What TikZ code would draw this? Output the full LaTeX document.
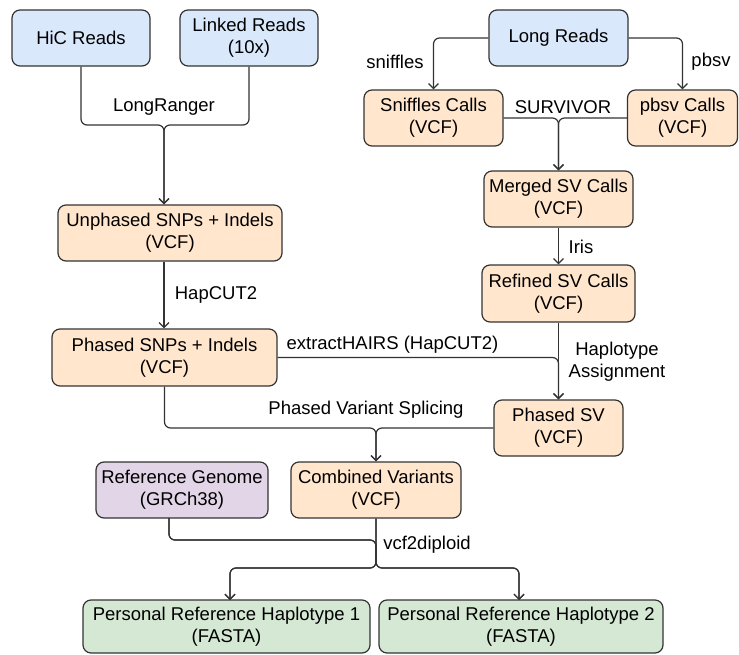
\documentclass[tikz,border=0pt]{standalone}
\usepackage{fontspec}
\setmainfont{Liberation Sans}
\usetikzlibrary{arrows.meta,calc}
\definecolor{bluef}{HTML}{DAE8FC}
\definecolor{orangef}{HTML}{FFE6CC}
\definecolor{purplef}{HTML}{E1D5E7}
\definecolor{greenf}{HTML}{D5E8D4}
\definecolor{strokec}{HTML}{333333}
\tikzset{
  box/.style={draw=strokec, line width=1.2pt, rounded corners=8pt, align=center, inner sep=0pt,
    font=\fontsize{18.5}{22}\selectfont},
  bluebox/.style={box, fill=bluef},
  orangebox/.style={box, fill=orangef},
  purplebox/.style={box, fill=purplef},
  greenbox/.style={box, fill=greenf},
  conn/.style={draw=strokec, line width=1.2pt, rounded corners=6pt},
  arr/.style={conn, -{Straight Barb[length=5pt,width=10pt,line width=1.2pt]}},
  lbl/.style={font=\fontsize{18.5}{22}\selectfont, align=center, inner sep=0pt, text=black}
}
\begin{document}
\begin{tikzpicture}[x=1pt,y=-1pt]
\useasboundingbox (0,0) rectangle (739,655);
% nodes
\node[bluebox, minimum width=138pt, minimum height=56pt] (hic) at (81,38) {HiC Reads};
\node[bluebox, minimum width=138pt, minimum height=56pt] (linked) at (249,38) {Linked Reads\\(10x)};
\node[bluebox, minimum width=139pt, minimum height=56pt] (longr) at (558.5,38) {Long Reads};
\node[orangebox, minimum width=139pt, minimum height=56pt] (sniff) at (433.5,118) {Sniffles Calls\\(VCF)};
\node[orangebox, minimum width=110pt, minimum height=56pt] (pbsvc) at (682.5,118) {pbsv Calls\\(VCF)};
\node[orangebox, minimum width=149pt, minimum height=56pt] (merged) at (558.5,199) {Merged SV Calls\\(VCF)};
\node[orangebox, minimum width=153pt, minimum height=57pt] (refined) at (558.5,293.5) {Refined SV Calls\\(VCF)};
\node[orangebox, minimum width=224pt, minimum height=56pt] (unph) at (170,233) {Unphased SNPs + Indels\\(VCF)};
\node[orangebox, minimum width=225pt, minimum height=57pt] (phsnp) at (164.5,357.5) {Phased SNPs + Indels\\(VCF)};
\node[orangebox, minimum width=129pt, minimum height=56pt] (phsv) at (558.5,428) {Phased SV\\(VCF)};
\node[purplebox, minimum width=172pt, minimum height=56pt] (refg) at (182,490) {Reference Genome\\(GRCh38)};
\node[orangebox, minimum width=170pt, minimum height=56pt] (comb) at (376,490) {Combined Variants\\(VCF)};
\node[greenbox, minimum width=287pt, minimum height=53pt] (pr1) at (226.5,626.5) {Personal Reference Haplotype 1\\(FASTA)};
\node[greenbox, minimum width=284pt, minimum height=53pt] (pr2) at (521,626.5) {Personal Reference Haplotype 2\\(FASTA)};
% junctions
\coordinate (j1) at (164,125);
\coordinate (j3) at (376,428);
\coordinate (j4) at (376,540);
\coordinate (j5) at (376,568);
\coordinate (rgout) at (169,518);
\coordinate (p1in) at (230,600);
\coordinate (p2in) at (519,600);
% connectors
\draw[arr] (hic.south) |- (j1) -- (j1 |- unph.north);
\draw[arr] (linked.south) |- (j1) -- (j1 |- unph.north);
\draw[arr] (j1 |- unph.south) -- (j1 |- phsnp.north);
\draw[arr] (longr.west) -| (sniff.north);
\draw[arr] (longr.east) -| (pbsvc.north);
\draw[arr] (sniff.east) -| (merged.north);
\draw[arr] (pbsvc.west) -| (merged.north);
\draw[arr] (merged.south) -- (refined.north);
\draw[arr] (refined.south) -- (phsv.north);
\draw[arr] (phsnp.east) -| (phsv.north);
\draw[arr] (phsnp.south) |- (j3) -- (comb.north);
\draw[arr] (phsv.west) -| (comb.north);
\draw[arr] (rgout) |- (j4) -- (j5) -| (p1in);
\draw[arr] (rgout) |- (j4) -- (j5) -| (p2in);
\draw[arr] (comb.south) -- (j5) -| (p1in);
\draw[arr] (comb.south) -- (j5) -| (p2in);
% labels
\node[lbl] (l1) at (164,107) {LongRanger};
\node[lbl] (l2) at (216,295) {HapCUT2};
\node[lbl] (l3) at (395,62) {sniffles};
\node[lbl] (l4) at (711,62) {pbsv};
\node[lbl] (l5) at (563,107) {SURVIVOR};
\node[lbl] (l6) at (581,247) {Iris};
\node[lbl] (l7) at (617,362) {Haplotype\\Assignment};
\node[lbl] (l8) at (392.5,345) {extractHAIRS (HapCUT2)};
\node[lbl] (l9) at (366,410) {Phased Variant Splicing};
\node[lbl] (l10) at (427,545) {vcf2diploid};
\end{tikzpicture}
\end{document}
